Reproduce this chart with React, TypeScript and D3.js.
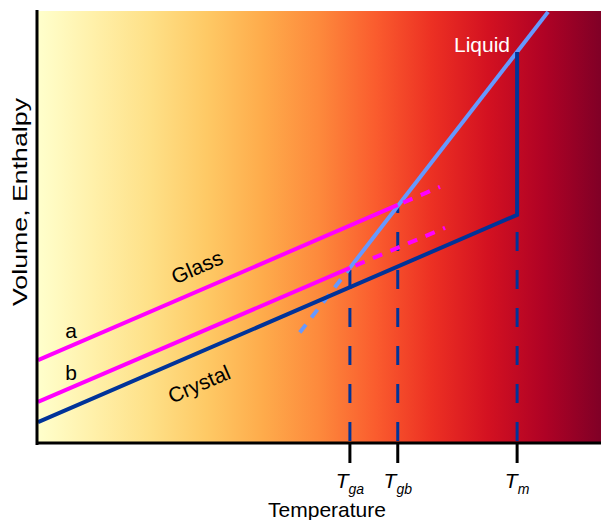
import React from "react";
import * as d3 from "d3";

// Schematic temperatures (0..100 abstract units)
const tickNames = ["ga", "gb", "m"];
const tickTemps = [55.4, 63.9, 85.1];

// Crystal: [T, V]
const crystalT = [0, 85.1, 85.1];
const crystalV = [4.6, 52.7, 90.5];
// Liquid (solid part) and supercooled (dashed) part
const liquidT = [55.4, 90.6];
const liquidV = [40.4, 99.8];
const liquidDashT = [46.5, 55.4];
const liquidDashV = [25.4, 40.4];
// Glass a (slow cooling) and b
const glassAT = [0, 63.9];
const glassAV = [19.0, 55.0];
const glassADashT = [63.9, 71.4];
const glassADashV = [55.0, 59.2];
const glassBT = [0, 55.4];
const glassBV = [9.3, 40.4];
const glassBDashT = [55.4, 72.3];
const glassBDashV = [40.4, 49.7];
// Drop lines from transition points to axis
const dropT = [55.4, 63.9, 85.1];
const dropV = [40.4, 55.0, 52.7];

export default function App() {
  const W = 601, H = 520;
  const x0 = 38, x1 = 601, y0 = 442, y1 = 11;
  const x = d3.scaleLinear().domain([0, 100]).range([x0, x1]);
  const y = d3.scaleLinear().domain([0, 100]).range([y0, y1]);
  const line = d3.line<[number, number]>().x(d => x(d[0])).y(d => y(d[1]));
  const pts = (t: number[], v: number[]) => t.map((tt, i) => [tt, v[i]] as [number, number]);

  const stops = d3.range(0, 1.0001, 0.1).map(t => ({ off: t, col: d3.interpolateYlOrRd(t) }));
  const font = "Liberation Sans, Arial, sans-serif";

  const slope = (y(55.0) - y(19.0)) / (x(63.9) - x(0));
  const ang = (Math.atan(slope) * 180) / Math.PI;

  return (
    <svg width={W} height={H} style={{ position: "absolute", left: 0, top: 0 }} fontFamily={font}>
      <defs>
        <linearGradient id="bg" x1="0" x2="1" y1="0" y2="0">
          {stops.map((s, i) => (
            <stop key={i} offset={s.off} stopColor={s.col} />
          ))}
        </linearGradient>
      </defs>
      <rect x={x0} y={y1} width={x1 - x0} height={y0 - y1} fill="url(#bg)" />

      {/* drop lines */}
      {dropT.map((t, i) => (
        <line key={i} x1={x(t)} x2={x(t)} y1={y0} y2={y(dropV[i])} stroke="#003399" strokeWidth={3}
          strokeDasharray="19,19" strokeDashoffset={-1} />
      ))}

      {/* liquid */}
      <path d={line(pts(liquidDashT, liquidDashV))!} fill="none" stroke="#6699ff" strokeWidth={4} strokeDasharray="10,9" />
      <path d={line(pts(liquidT, liquidV))!} fill="none" stroke="#6699ff" strokeWidth={4} />

      {/* crystal */}
      <path d={line(pts(crystalT, crystalV))!} fill="none" stroke="#003399" strokeWidth={4} strokeLinejoin="miter" />

      {/* glasses */}
      <path d={line(pts(glassAT, glassAV))!} fill="none" stroke="#ff00ff" strokeWidth={4} />
      <path d={line(pts(glassADashT, glassADashV))!} fill="none" stroke="#ff00ff" strokeWidth={4} strokeDasharray="10,9" strokeDashoffset={-6} />
      <path d={line(pts(glassBT, glassBV))!} fill="none" stroke="#ff00ff" strokeWidth={4} />
      <path d={line(pts(glassBDashT, glassBDashV))!} fill="none" stroke="#ff00ff" strokeWidth={4} strokeDasharray="10,9" strokeDashoffset={-6} />

      {/* axes */}
      <line x1={37} x2={37} y1={10} y2={445} stroke="#000" strokeWidth={3} />
      <line x1={36} x2={601} y1={443} y2={443} stroke="#000" strokeWidth={3} />
      {tickTemps.map((t, i) => (
        <g key={i}>
          <line x1={x(t)} x2={x(t)} y1={444} y2={463} stroke="#000" strokeWidth={3} />
          <text x={x(t)} y={488} textAnchor="middle" fontSize={21} fontStyle="italic" fill="#000">
            T<tspan fontSize={14} dy={6}>{tickNames[i]}</tspan>
          </text>
        </g>
      ))}

      <text x={327} y={517} textAnchor="middle" fontSize={21} fill="#000">Temperature</text>
      <text transform="translate(27,202) rotate(-90)" textAnchor="middle" fontSize={21} fill="#000"
        textLength={208} lengthAdjust="spacingAndGlyphs">Volume, Enthalpy</text>

      <text transform={`translate(197,267) rotate(${ang})`} textAnchor="middle" dy="0.35em" fontSize={21} fill="#000">Glass</text>
      <text transform={`translate(199,384) rotate(${ang})`} textAnchor="middle" dy="0.35em" fontSize={21} fill="#000">Crystal</text>
      <text x={71} y={338} textAnchor="middle" fontSize={21} fill="#000">a</text>
      <text x={71} y={380} textAnchor="middle" fontSize={21} fill="#000">b</text>
      <text x={482} y={52} textAnchor="middle" fontSize={21} fill="#fff">Liquid</text>
    </svg>
  );
}
